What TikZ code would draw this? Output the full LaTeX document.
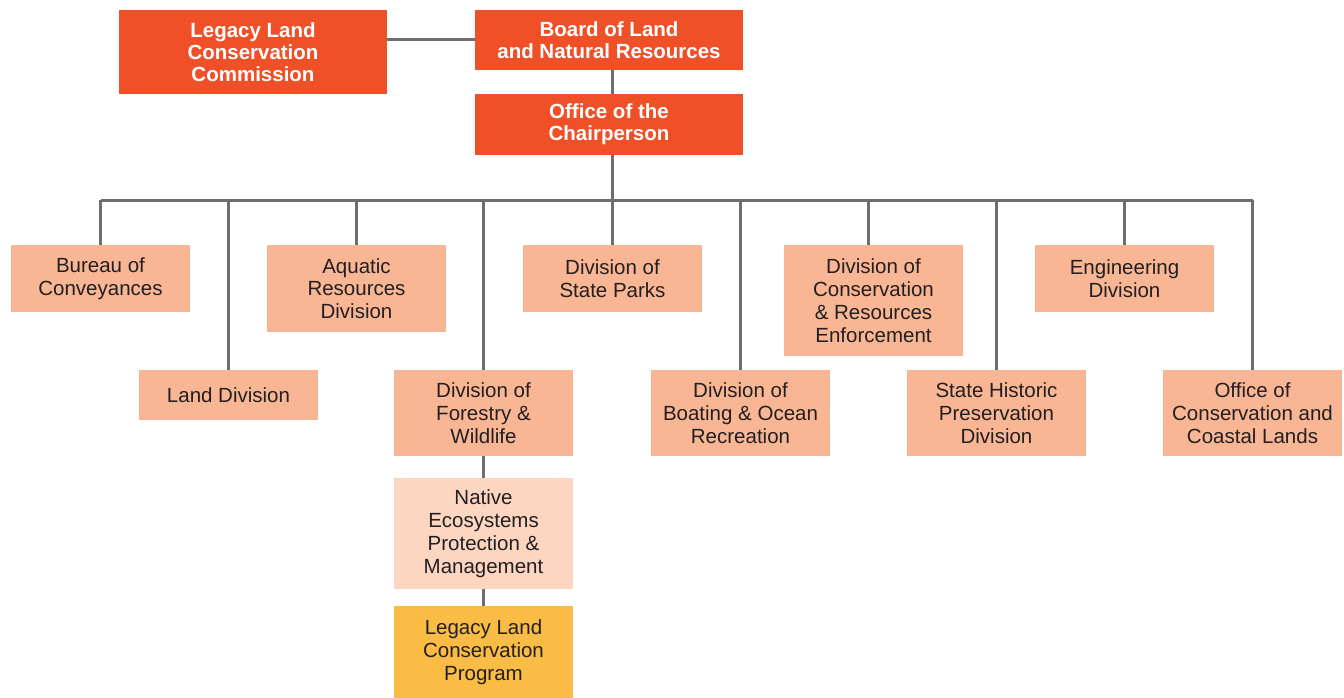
\documentclass[tikz,border=0pt]{standalone}
\usepackage{fontspec}
\setmainfont{Liberation Sans}
\definecolor{topred}{RGB}{240,80,40}
\definecolor{divpeach}{RGB}{248,182,148}
\definecolor{subpeach}{RGB}{253,214,193}
\definecolor{progyellow}{RGB}{251,188,69}
\definecolor{linkgray}{RGB}{110,110,112}
\definecolor{txtgray}{RGB}{35,31,32}
\tikzset{
	unit/.style={rectangle, minimum width=179pt, inner sep=0pt, align=center, text=txtgray, font=\fontsize{20.5}{22.8}\selectfont},
	topunit/.style={unit, fill=topred, text=white, minimum width=268pt, font=\fontsize{20.5}{22}\selectfont\bfseries},
	division/.style={unit, fill=divpeach},
	subunit/.style={unit, fill=subpeach},
	program/.style={unit, fill=progyellow},
	link/.style={draw=linkgray, line width=3pt}
}
\begin{document}
\begin{tikzpicture}[x=1pt, y=-1pt, line join=round]
	\def\busy{200} % bus line
	\useasboundingbox (0,0) rectangle (1344,698);
	% top
	\node[topunit, minimum height=84pt] (comm) at (253,52) {Legacy Land\\Conservation\\Commission};
	\node[topunit, minimum height=60pt] (board) at (609,40) {Board of Land\\and Natural Resources};
	\node[topunit, minimum height=61pt] (chair) at (609,124.5) {Office of the\\Chairperson};
	% divisions, upper row
	\node[division, minimum height=67pt] (bur) at (100.5,278.5) {Bureau of\\Conveyances};
	\node[division, minimum height=87pt] (aqua) at (356.5,288.5) {Aquatic\\Resources\\Division};
	\node[division, minimum height=67pt] (park) at (612.5,278.5) {Division of\\State Parks};
	\node[division, minimum height=111pt] (enf) at (873.5,300.5) {Division of\\Conservation\\\& Resources\\Enforcement};
	\node[division, minimum height=67pt] (eng) at (1124.5,278.5) {Engineering\\Division};
	% divisions, lower row
	\node[division, minimum height=50pt] (land) at (228.5,395) {Land Division};
	\node[division, minimum height=86pt] (fore) at (483.5,413) {Division of\\Forestry \&\\Wildlife};
	\node[division, minimum height=86pt] (boat) at (740.5,413) {Division of\\Boating \& Ocean\\Recreation};
	\node[division, minimum height=86pt] (hist) at (996.5,413) {State Historic\\Preservation\\Division};
	\node[division, minimum height=86pt] (occl) at (1252.5,413) {Office of\\Conservation and\\Coastal Lands};
	% under forestry
	\node[subunit, minimum height=111pt] (nep) at (483.5,533.5) {Native\\Ecosystems\\Protection \&\\Management};
	\node[program, minimum height=92pt] (llcp) at (483.5,652) {Legacy Land\\Conservation\\Program};
	% links
	\coordinate (bus) at (612,\busy);
	\coordinate (enftop) at ([xshift=-5pt]enf.north);
	\draw[link] (board.west) -- (board.west -| comm.east);
	\draw[link] ([xshift=3pt]board.south) -- ([xshift=3pt]chair.north);
	\draw[link] (bus) -- (bus |- chair.south);
	\draw[link] (bur.north |- bus) -- (occl.north |- bus);
	\foreach \n in {bur,land,aqua,fore,park,boat,enftop,hist,eng,occl}
		\draw[link] (\n.north) -- (\n.north |- bus);
	\draw[link] (fore.south) -- (nep.north);
	\draw[link] (nep.south) -- (llcp.north);
\end{tikzpicture}
\end{document}
